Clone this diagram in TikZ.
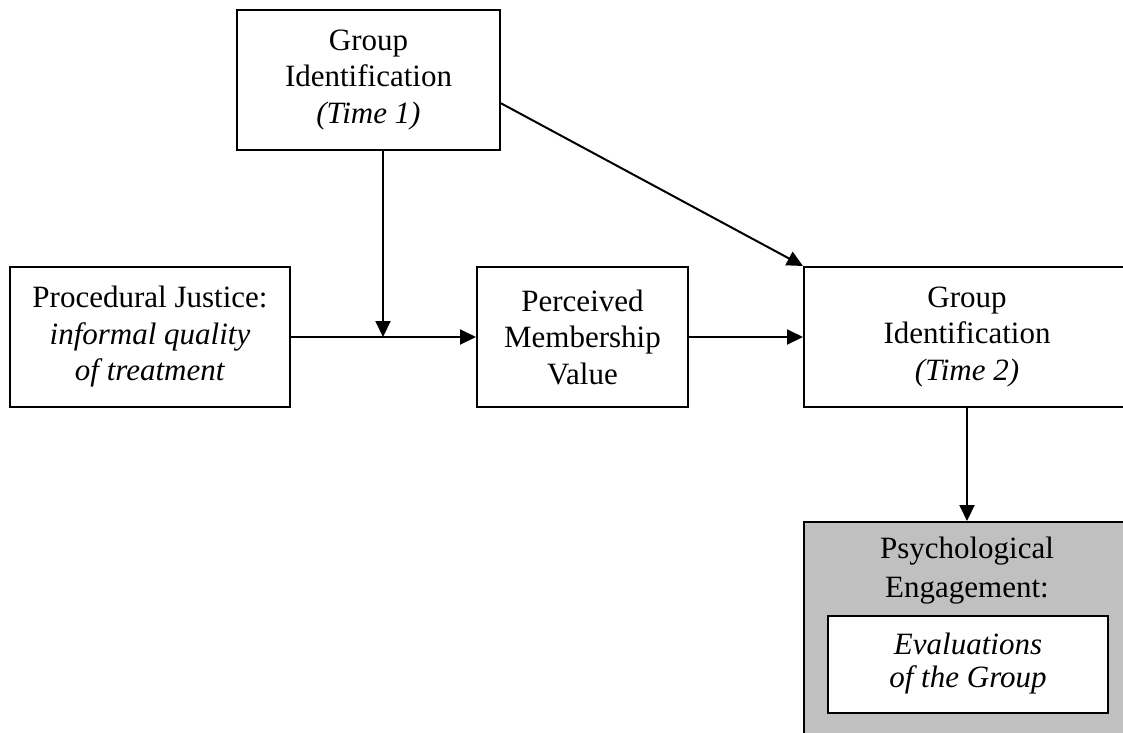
\documentclass[tikz,border=0pt]{standalone}
\usepackage{fontspec}
\setmainfont{Liberation Serif}
\usetikzlibrary{arrows.meta, positioning, calc}
\definecolor{engageGray}{HTML}{C0C0C0}
\tikzset{
  arrowK/.style={-{Triangle[length=16pt, width=15pt]}, black, line width=2pt},
  boxW/.style={rectangle, draw=black, line width=2pt, fill=white,
               align=center, inner sep=0pt, minimum height=140pt,
               font=\fontsize{31}{36.5}\selectfont},
  boxGray/.style={rectangle, draw=black, line width=2pt, fill=engageGray,
                  inner sep=0pt},
  txt/.style={align=center, inner sep=0pt, font=\fontsize{31}{39}\selectfont},
}
\begin{document}
\begin{tikzpicture}[x=1pt, y=-1pt]
  \useasboundingbox (0,0) rectangle (1123,732);
  \node[boxW, minimum width=263pt] (gi1) at (368.5,80)
    {Group\\Identification\\\textit{(Time 1)}};
  \node[boxW, minimum width=280pt] (pj) at (150,337)
    {Procedural Justice:\\\textit{informal quality}\\\textit{of treatment}};
  \node[boxW, minimum width=211pt] (pmv) at (582.5,337)
    {Perceived\\Membership\\Value};
  \node[boxW, minimum width=326pt] (gi2) at (967,337)
    {Group\\Identification\\\textit{(Time 2)}};
  % engagement block, runs off the page at the bottom
  \node[boxGray, minimum width=326pt, minimum height=223pt] (pe) at (967,633.5) {};
  \node[txt, anchor=north] (pelabel) at ([yshift=-16pt]pe.north)
    {Psychological\\Engagement:};
  \node[boxW, minimum width=280pt, minimum height=97pt,
        font=\fontsize{31}{33}\selectfont] (eval) at (968,664)
    {\textit{Evaluations}\\\textit{of the Group}};
  \coordinate (junc) at (383,337);
  \draw[arrowK] (pj) -- (pmv);
  \draw[arrowK] (gi1.south -| junc) -- (junc);
  \draw[arrowK] (pmv) -- (gi2);
  \draw[arrowK] ($(gi1.north east)!0.664!(gi1.south east)$) -- (gi2.north west);
  \draw[arrowK] (gi2.south) -- (pe.north);
\end{tikzpicture}
\end{document}
